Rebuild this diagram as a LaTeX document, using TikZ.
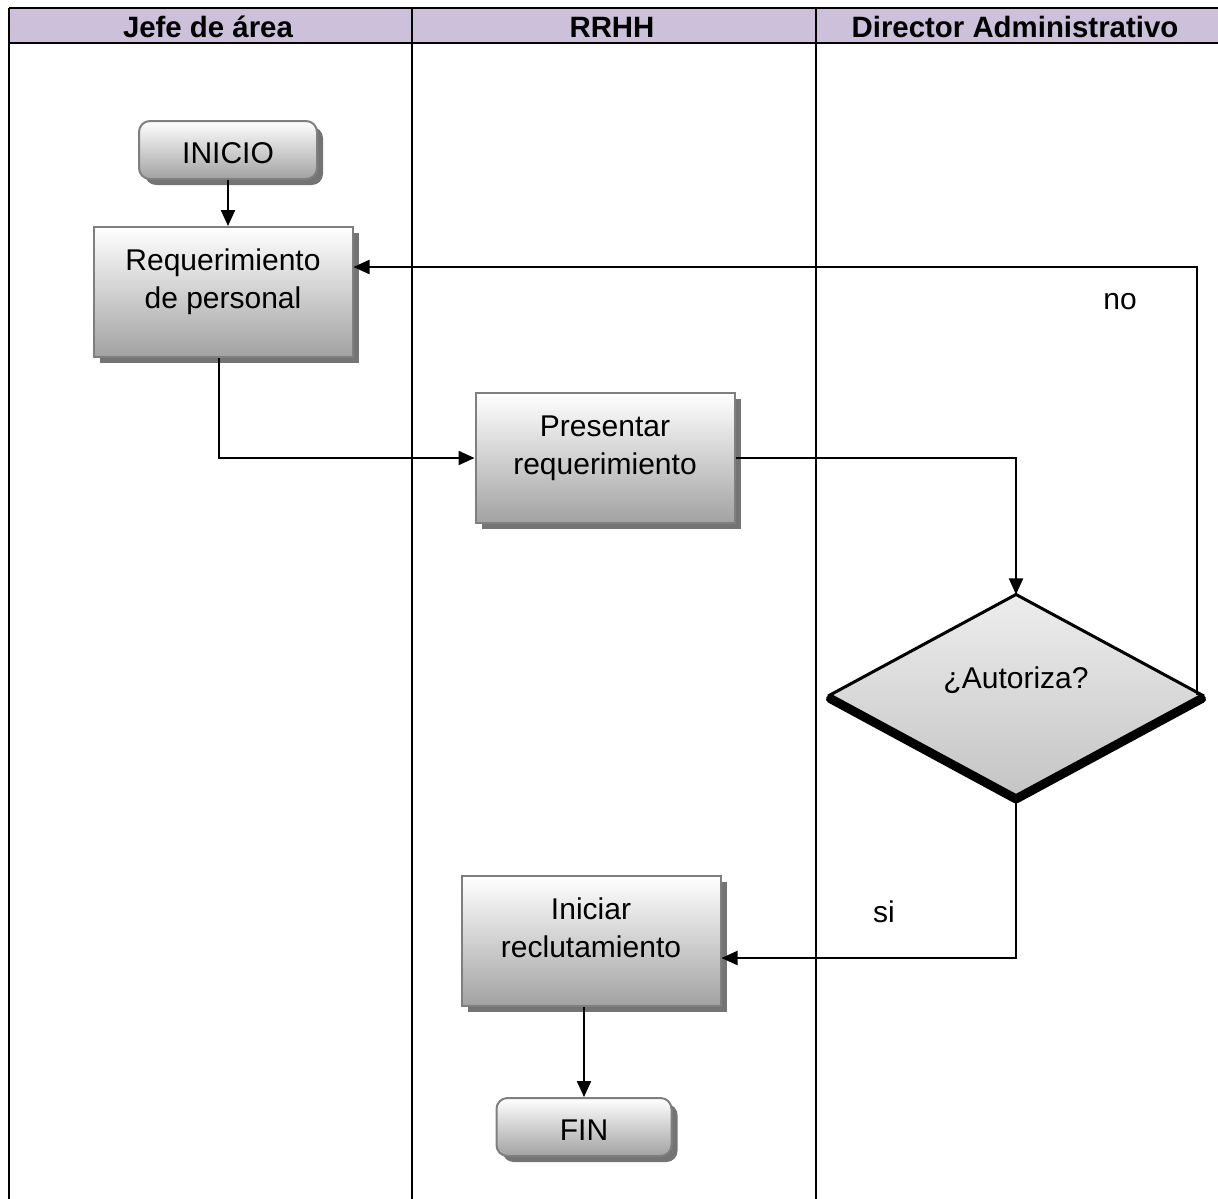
\documentclass[tikz,border=0pt]{standalone}
\usepackage{fontspec}
\setmainfont{Liberation Sans}
\usetikzlibrary{arrows.meta,shapes.geometric,shadows,backgrounds}
\definecolor{headfill}{HTML}{CCC0DA}
\definecolor{boxborder}{HTML}{7F7F7F}
\definecolor{boxshade}{HTML}{A2A2A2}
\definecolor{boxshadow}{HTML}{747474}
\begin{document}
\begin{tikzpicture}[x=1pt,y=-1pt,
  lane/.style={line width=2.5pt},
  conn/.style={line width=2.2pt},
  arr/.style={conn,-{Triangle[length=16pt,width=14pt]}},
  headtext/.style={font=\fontsize{29.4}{34}\selectfont\bfseries},
  plaintext/.style={font=\fontsize{30}{38}\selectfont},
  shadowed/.style={drop shadow={shadow xshift=6pt,shadow yshift=-6pt,fill=boxshadow,opacity=1}},
  procbox/.style={rectangle,draw=boxborder,line width=2pt,top color=white,bottom color=boxshade,
    shadowed,minimum width=259pt,minimum height=130pt,inner sep=0pt,align=center,
    plaintext,text depth=26pt},
  termbox/.style={rectangle,rounded corners=11pt,draw=boxborder,line width=2pt,top color=white,
    bottom color=boxshade,shadowed,minimum height=58pt,inner sep=0pt,plaintext,
    text height=27pt,text depth=0pt},
  decision/.style={diamond,draw=black,line width=3pt,top color=gray!14,bottom color=gray!46,
    minimum width=372pt,minimum height=194pt,inner sep=0pt,outer sep=0pt,plaintext,
    text height=21pt,text depth=35pt}
]
\useasboundingbox (0,0) rectangle (1218,1199);

% swimlane header and lane borders
\fill[headfill] (9,8) rectangle (1218,43);
\draw[lane] (9,8) -- (1218,8);
\draw[lane] (9,43) -- (1218,43);
\draw[lane] (9,8) -- (9,1199);
\draw[lane] (412,8) -- (412,1199);
\draw[lane] (816,8) -- (816,1199);
\node[headtext] (h1) at (208,27) {Jefe de área};
\node[headtext] (h2) at (612,27) {RRHH};
\node[headtext] (h3) at (1015,27) {Director Administrativo};

% flow steps
\node[termbox,minimum width=178pt] (start) at (228,150) {INICIO};
\node[procbox] (req) at (223,292) {Requerimiento\\de personal};
\node[procbox] (pres) at (605,458) {Presentar\\requerimiento};
\node[decision] (auth) at (1016,695) {¿Autoriza?};
\node[procbox] (recl) at (591,941) {Iniciar\\reclutamiento};
\node[termbox,minimum width=175pt] (fin) at (584,1127) {FIN};

% heavy shadow under the decision
\begin{scope}[on background layer]
  \draw[line width=8pt,line join=round,line cap=round]
    ([yshift=-4pt]auth.west) -- ([yshift=-4pt]auth.south) -- ([yshift=-4pt]auth.east);
\end{scope}

% connectors
\draw[arr] (start.south) -- (start.south |- req.north);
\draw[arr] ([xshift=-4pt]req.south) |- (pres.west);
\draw[arr] (pres.east) -| (auth.north);
\coordinate (noturn) at ([xshift=-5pt]auth.east);
\draw[arr] (noturn) |- ([yshift=25pt]req.east);
\draw[arr] (auth.south) |- ([yshift=-17pt]recl.east);
\draw[arr] (fin.north |- recl.south) -- (fin.north);

% branch labels
\node[plaintext] (lno) at (1120,302) {no};
\node[plaintext] (lsi) at (884,912) {si};
\end{tikzpicture}
\end{document}
